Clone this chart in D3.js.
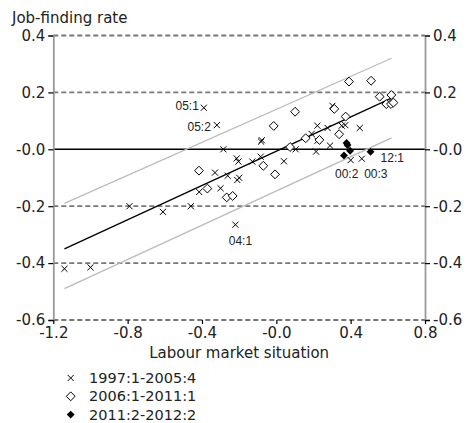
<!DOCTYPE html>
<html>
<head>
<meta charset="utf-8">
<script src="https://cdn.jsdelivr.net/npm/d3@7"></script>
<style>
  body { margin: 0; background: #fff; }
  text { font-family: 'DejaVu Sans', Verdana, sans-serif; fill: #222; }
</style>
</head>
<body>
<svg id="chart" width="470" height="423"></svg>
<script>
// ticks
const xTicks = [-1.2, -0.8, -0.4, 0, 0.4, 0.8]
const xTickLabels = ['-1.2', '-0.8', '-0.4', '-0.0', '0.4', '0.8']
const yTicks = [-0.6, -0.4, -0.2, 0, 0.2, 0.4]
const yTickLabels = ['-0.6', '-0.4', '-0.2', '-0.0', '0.2', '0.4']

// 1997:1-2005:4 (crosses)
const crossX = [-1.14, -1.00, -0.79, -0.61, -0.46, -0.415, -0.30, -0.33, -0.262, -0.21, -0.20, -0.22,
  -0.39, -0.32, -0.285, -0.213, -0.204, -0.129, -0.084, -0.082, -0.078, 0.041, 0.104, 0.19,
  0.214, 0.222, 0.221, 0.276, 0.289, 0.302, 0.352, 0.371, 0.40, 0.46, 0.449]
const crossY = [-0.42, -0.415, -0.20, -0.22, -0.20, -0.15, -0.137, -0.082, -0.093, -0.108, -0.10, -0.265,
  0.146, 0.085, 0.0, -0.032, -0.043, -0.043, -0.026, 0.027, 0.032, -0.042, 0.0, 0.054,
  -0.008, 0.03, 0.083, 0.075, 0.013, 0.153, 0.083, 0.085, -0.038, -0.033, 0.075]

// 2006:1-2011:1 (open diamonds)
const diamondX = [-0.416, -0.371, -0.267, -0.235, -0.07, -0.007, -0.014, 0.074, 0.101, 0.158, 0.232,
  0.312, 0.338, 0.373, 0.391, 0.51, 0.556, 0.619, 0.592, 0.617, 0.63]
const diamondY = [-0.075, -0.138, -0.169, -0.164, -0.058, -0.088, 0.082, 0.008, 0.132, 0.039, 0.033,
  0.142, 0.053, 0.115, 0.238, 0.241, 0.185, 0.191, 0.159, 0.159, 0.164]

// 2011:2-2012:2 (filled diamonds)
const filledX = [0.378, 0.383, 0.397, 0.364, 0.507]
const filledY = [0.022, 0.015, -0.005, -0.022, -0.009]

// fitted line and band
const fitX = [-1.14, 0.62]
const fitY = [-0.35, 0.18]
const upperY = [-0.19, 0.32]
const lowerY = [-0.49, 0.04]

// point labels
const labelText = ['05:1', '05:2', '04:1', '00:2', '00:3', '12:1']
const labelX = [-0.39, -0.32, -0.22, 0.40, 0.46, 0.507]
const labelY = [0.146, 0.085, -0.265, -0.038, -0.033, -0.009]

const legendLabels = ['1997:1-2005:4', '2006:1-2011:1', '2011:2-2012:2']

const svg = d3.select('#chart')
const x = d3.scaleLinear().domain([-1.2, 0.8]).range([53.3, 425])
const y = d3.scaleLinear().domain([-0.6, 0.4]).range([320, 35.5])

//* * grid lines
svg.append('g')
  .selectAll('line')
  .data(yTicks.filter(d => d !== 0))
  .enter().append('line')
  .attr('x1', x(-1.2))
  .attr('x2', x(0.8))
  .attr('y1', d => y(d))
  .attr('y2', d => y(d))
  .attr('stroke', '#777')
  .attr('stroke-width', 1.8)
  .attr('stroke-dasharray', '5,3')

// zero line
svg.append('line')
  .attr('x1', x(-1.2))
  .attr('x2', x(0.8))
  .attr('y1', y(0))
  .attr('y2', y(0))
  .attr('stroke', '#000')
  .attr('stroke-width', 1.6)

//* * axes
const yLeft = d3.axisLeft(y).tickValues(yTicks).tickSize(5).tickFormat((d, i) => yTickLabels[i])
const yRight = d3.axisRight(y).tickValues(yTicks).tickSize(5).tickFormat((d, i) => yTickLabels[i])
const xBottom = d3.axisBottom(x).tickValues(xTicks).tickSize(4).tickFormat((d, i) => xTickLabels[i])

const gl = svg.append('g').attr('transform', `translate(${x(-1.2)},0)`).call(yLeft)
const gr = svg.append('g').attr('transform', `translate(${x(0.8)},0)`).call(yRight)
const gb = svg.append('g').attr('transform', `translate(0,${y(-0.6)})`).call(xBottom)

;[gl, gr, gb].forEach(g => {
  g.select('.domain').attr('stroke', '#999').attr('stroke-width', 1.8)
  g.selectAll('.tick line').attr('stroke', '#000').attr('stroke-width', 1.2)
  g.selectAll('.tick text')
    .attr('fill', '#222')
    .style('font-family', "'DejaVu Sans', Verdana, sans-serif")
    .style('font-size', '15px')
})
gb.select('.domain').remove()
gl.selectAll('.tick text').attr('x', -8)
gr.selectAll('.tick text').attr('x', 8)
gb.selectAll('.tick text').attr('y', 7)

//* * fitted lines
const line = d3.line().x(d => x(d[0])).y(d => y(d[1]))
;[[upperY, '#bbb'], [lowerY, '#bbb'], [fitY, '#000']].forEach(([ys, c]) => {
  svg.append('path')
    .datum(fitX.map((v, i) => [v, ys[i]]))
    .attr('d', line)
    .attr('fill', 'none')
    .attr('stroke', c)
    .attr('stroke-width', 1.3)
})

//* * markers
const crossSym = d3.symbol().type(d3.symbolX).size(26)
const diamondSym = d3.symbol().type(d3.symbolDiamond2).size(50)
const filledSym = d3.symbol().type(d3.symbolDiamond2).size(40)

svg.append('g')
  .selectAll('path')
  .data(crossX.map((v, i) => [v, crossY[i]]))
  .enter().append('path')
  .attr('d', crossSym)
  .attr('transform', d => `translate(${x(d[0])},${y(d[1])})`)
  .attr('fill', 'none')
  .attr('stroke', '#000')
  .attr('stroke-width', 1)

svg.append('g')
  .selectAll('path')
  .data(diamondX.map((v, i) => [v, diamondY[i]]))
  .enter().append('path')
  .attr('d', diamondSym)
  .attr('transform', d => `translate(${x(d[0])},${y(d[1])})`)
  .attr('fill', '#fff')
  .attr('stroke', '#000')
  .attr('stroke-width', 1)

svg.append('g')
  .selectAll('path')
  .data(filledX.map((v, i) => [v, filledY[i]]))
  .enter().append('path')
  .attr('d', filledSym)
  .attr('transform', d => `translate(${x(d[0])},${y(d[1])})`)
  .attr('fill', '#000')

//* * point labels
const labelDx = [-5, -6, 5, -4, 14, 10]
const labelDy = [2, 6, 20, 18, 19, 10]
const labelAnchor = ['end', 'end', 'middle', 'middle', 'middle', 'start']
svg.append('g')
  .selectAll('text')
  .data(labelText)
  .enter().append('text')
  .attr('x', (d, i) => x(labelX[i]) + labelDx[i])
  .attr('y', (d, i) => y(labelY[i]) + labelDy[i])
  .attr('text-anchor', (d, i) => labelAnchor[i])
  .style('font-family', "'Liberation Sans', Arial, sans-serif")
  .style('font-size', '12px')
  .text(d => d)

//* * titles
svg.append('text')
  .attr('x', 12)
  .attr('y', 23)
  .style('font-size', '15px')
  .text('Job-finding rate')

svg.append('text')
  .attr('x', (x(-1.2) + x(0.8)) / 2)
  .attr('y', 358)
  .attr('text-anchor', 'middle')
  .style('font-size', '15px')
  .text('Labour market situation')

//* * legend
const legendSyms = [crossSym, diamondSym, filledSym]
const legendFill = ['none', '#fff', '#000']
const lg = svg.append('g')
legendLabels.forEach((lab, i) => {
  const cy = 378 + i * 18.3
  lg.append('path')
    .attr('d', legendSyms[i])
    .attr('transform', `translate(70.7,${cy})`)
    .attr('fill', legendFill[i])
    .attr('stroke', i === 2 ? 'none' : '#000')
    .attr('stroke-width', 1)
  lg.append('text')
    .attr('x', 89)
    .attr('y', cy + 5)
    .style('font-size', '14.5px')
    .text(lab)
})
</script>
</body>
</html>
